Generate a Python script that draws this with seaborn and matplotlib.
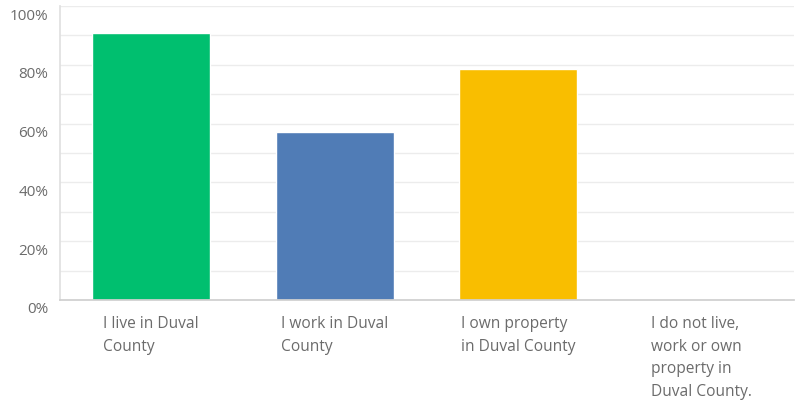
import matplotlib
matplotlib.use("Agg")
import matplotlib.pyplot as plt
import matplotlib.transforms as mtransforms
import seaborn as sns
import pandas as pd

categories = ["I live in Duval\nCounty", "I work in Duval\nCounty",
              "I own property\nin Duval County",
              "I do not live,\nwork or own\nproperty in\nDuval County."]
values = [90.9, 57.2, 78.5, 0.0]
colors = ["#00BF6F", "#507CB6", "#F9BE00", "#A3A3A3"]
ytick_labels = ["0%", "20%", "40%", "60%", "80%", "100%"]

sns.set_theme(style="white")
plt.rcParams["font.family"] = ["Open Sans", "DejaVu Sans"]

df = pd.DataFrame({"cat": categories, "val": values})

fig = plt.figure(figsize=(7.95, 4.02), dpi=100)
ax = fig.add_axes([59.5/795, 101/402, 734/795, 294/402])

for y in range(10, 101, 10):
    ax.axhline(y, color="#ececec", lw=1, zorder=0)

sns.barplot(data=df, x="cat", y="val", hue="cat", palette=colors,
            width=0.643, legend=False, ax=ax, saturation=1, zorder=2)

ax.set_xlim(-0.5, 3.5)
ax.set_ylim(0, 100)
ax.set_yticks([0, 20, 40, 60, 80, 100])
ax.set_yticklabels(ytick_labels)
ax.set_xlabel("")
ax.set_ylabel("")
ax.tick_params(axis="y", length=0, pad=8, labelsize=11, labelcolor="#6b6b6b")
ax.tick_params(axis="x", length=0, pad=11, labelsize=11.2, labelcolor="#6b6b6b")
for lbl in ax.get_xticklabels():
    lbl.set_multialignment("left")
    lbl.set_linespacing(1.55)
off = mtransforms.ScaledTranslation(0, -7/100, fig.dpi_scale_trans)
for lbl in ax.get_yticklabels():
    lbl.set_transform(lbl.get_transform() + off)

for s in ["top", "right"]:
    ax.spines[s].set_visible(False)
ax.spines["left"].set_color("#e0e0e0")
ax.spines["bottom"].set_color("#cfcfcf")
ax.spines["left"].set_bounds(0, 100)

fig.savefig("out.png", dpi=100)
